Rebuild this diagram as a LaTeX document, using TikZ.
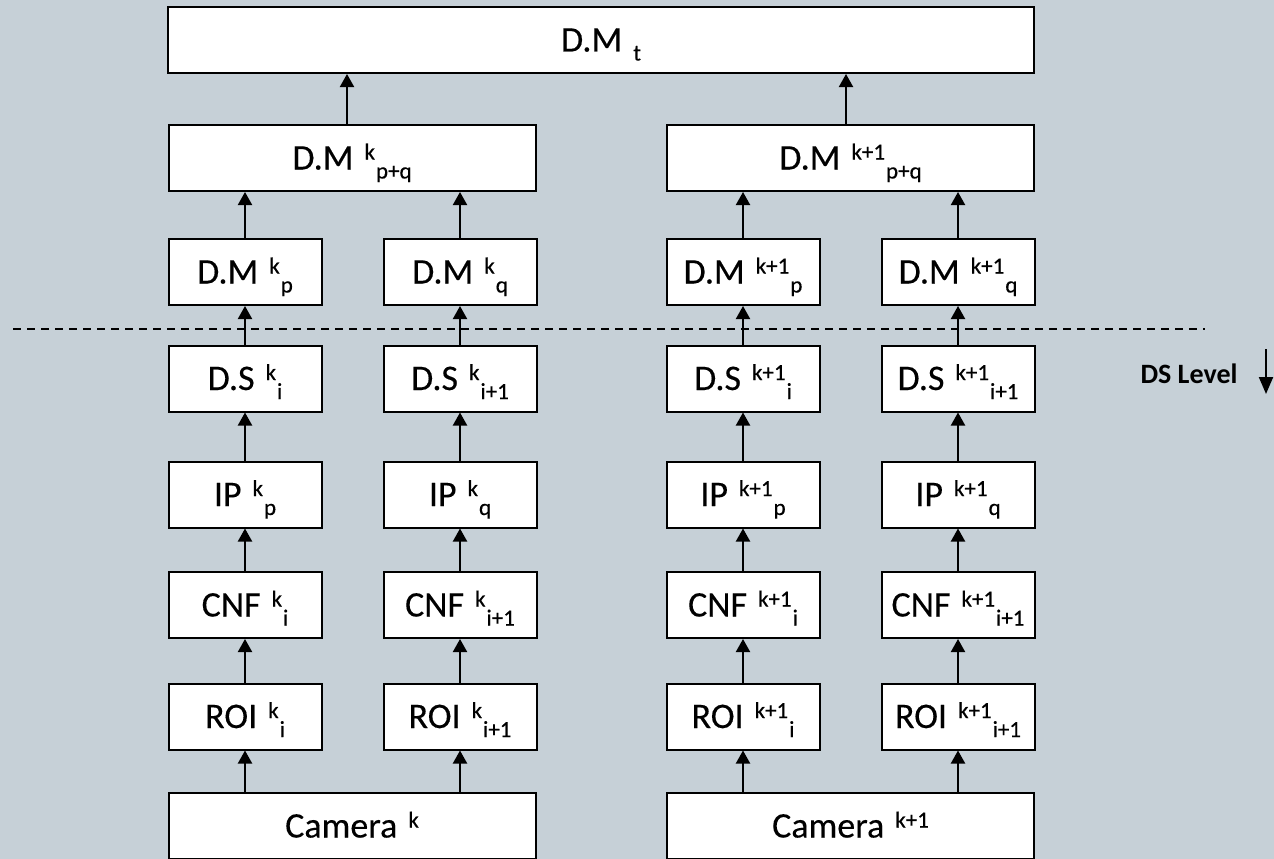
\documentclass[tikz,border=0pt]{standalone}
\usepackage{fontspec}
\setmainfont{Carlito}
\newfontfamily\lblfont[FakeBold=0.3]{Carlito}
\usetikzlibrary{arrows.meta}
\definecolor{bg}{RGB}{198,208,215}
\newcommand{\mainsz}{\fontsize{36}{36}\selectfont}
\newcommand{\supsz}{\fontsize{23}{23}\selectfont}
\newcommand{\lbl}[3]{{\lblfont\mainsz #1\hspace{11pt}\smash{\raisebox{10pt}{\supsz #2}\hspace{1pt}\raisebox{-9pt}{\supsz #3}}}}
\newcommand{\lblsub}[2]{{\lblfont\mainsz #1\hspace{11pt}\smash{\raisebox{-9pt}{\supsz #2}}}}
\newcommand{\lblsup}[2]{{\lblfont\mainsz #1\hspace{11pt}\smash{\raisebox{10pt}{\supsz #2}}}}
\tikzset{
  box/.style={draw, line width=2pt, fill=white, minimum height=66pt, inner sep=0pt,
    text height=23pt, text depth=0pt, anchor=center},
  small/.style={box, minimum width=153pt},
  wide/.style={box, minimum width=367pt},
  arr/.style={line width=2pt, -{Triangle[length=13pt,width=14pt]}},
}
\begin{document}
\begin{tikzpicture}[x=1pt,y=-1pt]
\fill[bg] (0,0) rectangle (1274,859);
\useasboundingbox (0,0) rectangle (1274,859);

% top
\node[box, minimum width=866pt] (top) at (601,40) {\lblsub{D.M}{t}};
\node[wide] (pq1) at (352,158) {\lbl{D.M}{k}{p+q}};
\node[wide] (pq2) at (850.5,158) {\lbl{D.M}{k+1}{p+q}};

% columns: 245, 460, 743, 958
\node[small] (dm1) at (245,272) {\lbl{D.M}{k}{p}};
\node[small] (dm2) at (460,272) {\lbl{D.M}{k}{q}};
\node[small] (dm3) at (743,272) {\lbl{D.M}{k+1}{p}};
\node[small] (dm4) at (958,272) {\lbl{D.M}{k+1}{q}};

\node[small] (ds1) at (245,378.5) {\lbl{D.S}{k}{i}};
\node[small] (ds2) at (460,378.5) {\lbl{D.S}{k}{i+1}};
\node[small] (ds3) at (743,378.5) {\lbl{D.S}{k+1}{i}};
\node[small] (ds4) at (958,378.5) {\lbl{D.S}{k+1}{i+1}};

\node[small] (ip1) at (245,494.5) {\lbl{IP}{k}{p}};
\node[small] (ip2) at (460,494.5) {\lbl{IP}{k}{q}};
\node[small] (ip3) at (743,494.5) {\lbl{IP}{k+1}{p}};
\node[small] (ip4) at (958,494.5) {\lbl{IP}{k+1}{q}};

\node[small] (cnf1) at (245,605) {\lbl{CNF}{k}{i}};
\node[small] (cnf2) at (460,605) {\lbl{CNF}{k}{i+1}};
\node[small] (cnf3) at (743,605) {\lbl{CNF}{k+1}{i}};
\node[small] (cnf4) at (958,605) {\lbl{CNF}{k+1}{i+1}};

\node[small] (roi1) at (245,716.5) {\lbl{ROI}{k}{i}};
\node[small] (roi2) at (460,716.5) {\lbl{ROI}{k}{i+1}};
\node[small] (roi3) at (743,716.5) {\lbl{ROI}{k+1}{i}};
\node[small] (roi4) at (958,716.5) {\lbl{ROI}{k+1}{i+1}};

\node[wide] (cam1) at (352,826) {\lblsup{Camera}{k}};
\node[wide] (cam2) at (850.5,826) {\lblsup{Camera}{k+1}};

% arrows
\foreach \c in {1,2,3,4}{
  \draw[arr] (roi\c) -- (cnf\c);
  \draw[arr] (cnf\c) -- (ip\c);
  \draw[arr] (ip\c) -- (ds\c);
  \draw[arr] (ds\c) -- (dm\c);
}
\draw[arr] (cam1.north -| roi1) -- (roi1);
\draw[arr] (cam1.north -| roi2) -- (roi2);
\draw[arr] (cam2.north -| roi3) -- (roi3);
\draw[arr] (cam2.north -| roi4) -- (roi4);
\draw[arr] (dm1) -- (dm1 |- pq1.south);
\draw[arr] (dm2) -- (dm2 |- pq1.south);
\draw[arr] (dm3) -- (dm3 |- pq2.south);
\draw[arr] (dm4) -- (dm4 |- pq2.south);
\draw[arr] ([xshift=-5pt]pq1.north) -- ([xshift=-5pt]pq1.north |- top.south);
\draw[arr] ([xshift=-4.5pt]pq2.north) -- ([xshift=-4.5pt]pq2.north |- top.south);

% dashed level line
\coordinate (dl) at (13,329);
\coordinate (dr) at (1205,329);
\draw[line width=1.5pt, dash pattern=on 8pt off 6pt] (dl) -- (dr);

% DS level
\node[anchor=base, font=\fontsize{28}{28}\selectfont\bfseries, inner sep=0pt] (dsl) at (1189,383) {DS Level};
\coordinate (dsa) at (1266,349);
\coordinate (dsb) at (1266,394);
\draw[line width=2pt, -{Triangle[length=17pt,width=14pt]}] (dsa) -- (dsb);
\end{tikzpicture}
\end{document}
